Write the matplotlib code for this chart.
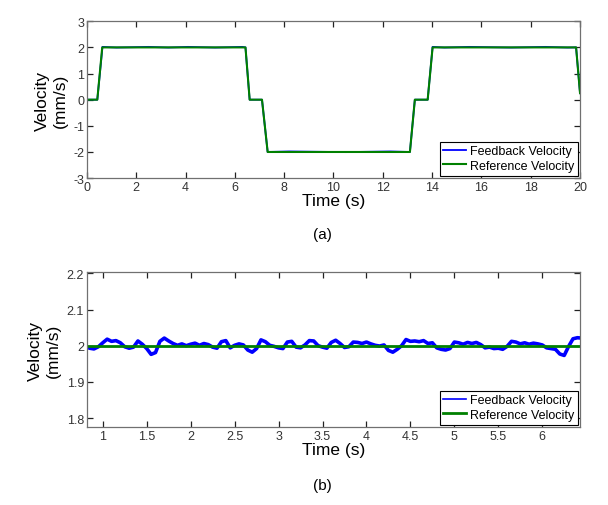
import numpy as np
import matplotlib
matplotlib.use('Agg')
import matplotlib.pyplot as plt
from matplotlib.ticker import FormatStrFormatter

plt.rcParams['font.family'] = ['Liberation Sans', 'DejaVu Sans']
plt.rcParams['axes.unicode_minus'] = False

# (a) full run, reference profile breakpoints
ref_t = [0, 0.42, 0.62, 6.43, 6.6, 7.1, 7.33, 13.1, 13.3, 13.82, 14.02, 19.84, 20]
ref_v = [0, 0, 2, 2, 0, 0, -2, -2, 0, 0, 2, 2, 0.25]

# (a) feedback, slightly rippled on the plateaus
fb_t = [0, 0.42, 0.63, 1.2, 2.5, 3.3, 4.1, 5.2, 6.3, 6.43, 6.6, 7.1, 7.33,
        8.2, 10.5, 12.3, 13.1, 13.3, 13.82, 14.02, 14.5, 15.5, 17.2, 18.6,
        19.5, 19.84, 20]
fb_v = [0, 0, 2.02, 1.995, 2.02, 1.995, 2.02, 1.995, 2.02, 2, 0, 0, -2,
        -1.98, -2.005, -1.98, -2, 0, 0, 2.02, 1.995, 2.02, 1.995, 2.02,
        1.995, 2, 0.25]

# (b) zoomed constant-velocity section
zoom_t = np.round(np.arange(0.80, 6.451, 0.05), 2)
zoom_fb = [1.998, 1.993, 1.991, 1.997, 2.008, 2.018, 2.012, 2.014, 2.008, 1.997,
           1.993, 1.996, 2.013, 2.004, 1.992, 1.976, 1.981, 2.012, 2.021, 2.013,
           2.006, 2.001, 2.005, 2.000, 2.004, 2.007, 2.001, 2.006, 2.003, 1.996,
           1.993, 2.011, 2.014, 1.994, 2.001, 2.005, 2.002, 1.988, 1.982, 1.992,
           2.016, 2.011, 2.001, 1.998, 1.994, 1.992, 2.010, 2.012, 1.996, 1.994,
           2.002, 2.014, 2.013, 2.000, 1.996, 1.993, 2.009, 2.015, 2.006, 1.995,
           1.997, 2.010, 2.009, 2.006, 2.010, 2.005, 2.001, 1.999, 2.002, 1.987,
           1.982, 1.990, 2.000, 2.017, 2.012, 2.013, 2.011, 2.014, 2.006, 2.008,
           1.994, 1.990, 1.988, 1.992, 2.010, 2.008, 2.004, 2.009, 2.006, 2.009,
           2.003, 1.994, 1.996, 1.992, 1.993, 1.990, 1.998, 2.012, 2.010, 2.005,
           2.008, 2.004, 2.007, 2.005, 2.002, 1.994, 1.992, 1.990, 1.977, 1.973,
           1.998, 2.019, 2.022, 2.021]
zoom_ref = 2.0

blue = '#0000ff'
green = '#008000'

fig = plt.figure(figsize=(6.08, 5.06), dpi=100)
ax1 = fig.add_axes([0.143, 0.646, 0.811, 0.310])
ax2 = fig.add_axes([0.143, 0.154, 0.811, 0.306])


def style(ax):
    for s in ax.spines.values():
        s.set_color('#707070')
        s.set_linewidth(0.9)
    ax.tick_params(direction='in', top=True, right=True, length=4,
                   width=0.9, color='#222222', labelsize=9,
                   labelcolor='#333333', pad=2)
    ax.set_xlabel('Time (s)', fontsize=12.5, labelpad=0)
    ax.set_ylabel('Velocity\n(mm/s)', fontsize=12.5, labelpad=4,
                  linespacing=1.25)
    ax.legend(loc='lower right', fontsize=9, frameon=True, fancybox=False,
              edgecolor='black', framealpha=1, handlelength=1.8,
              handletextpad=0.3, borderpad=0.3, labelspacing=0.2,
              borderaxespad=0.2)
    ax.get_legend().get_frame().set_linewidth(0.8)


ax1.plot(fb_t, fb_v, color=blue, lw=1.3, label='Feedback Velocity')
ax1.plot(ref_t, ref_v, color=green, lw=1.5, label='Reference Velocity')
ax1.set_xlim(0, 20)
ax1.set_ylim(-3, 3)
ax1.set_xticks(np.arange(0, 21, 2))
ax1.set_yticks(np.arange(-3, 4, 1))
style(ax1)

ax2.plot(zoom_t, zoom_fb, color=blue, lw=2.6, label='Feedback Velocity')
ax2.plot(zoom_t, [zoom_ref] * len(zoom_t), color=green, lw=2.0,
         label='Reference Velocity')
ax2.set_xlim(0.82, 6.43)
ax2.set_ylim(1.775, 2.203)
ax2.set_xticks(np.arange(1, 6.01, 0.5))
ax2.set_yticks([1.8, 1.9, 2.0, 2.1, 2.2])
ax2.xaxis.set_major_formatter(FormatStrFormatter('%g'))
ax2.yaxis.set_major_formatter(FormatStrFormatter('%g'))
style(ax2)
ax2.get_legend().legend_handles[0].set_linewidth(1.2)

fig.text(0.53, 1 - 235 / 506, '(a)', fontsize=11, ha='center', va='center')
fig.text(0.53, 1 - 486 / 506, '(b)', fontsize=11, ha='center', va='center')

fig.savefig('out.png', dpi=100)
